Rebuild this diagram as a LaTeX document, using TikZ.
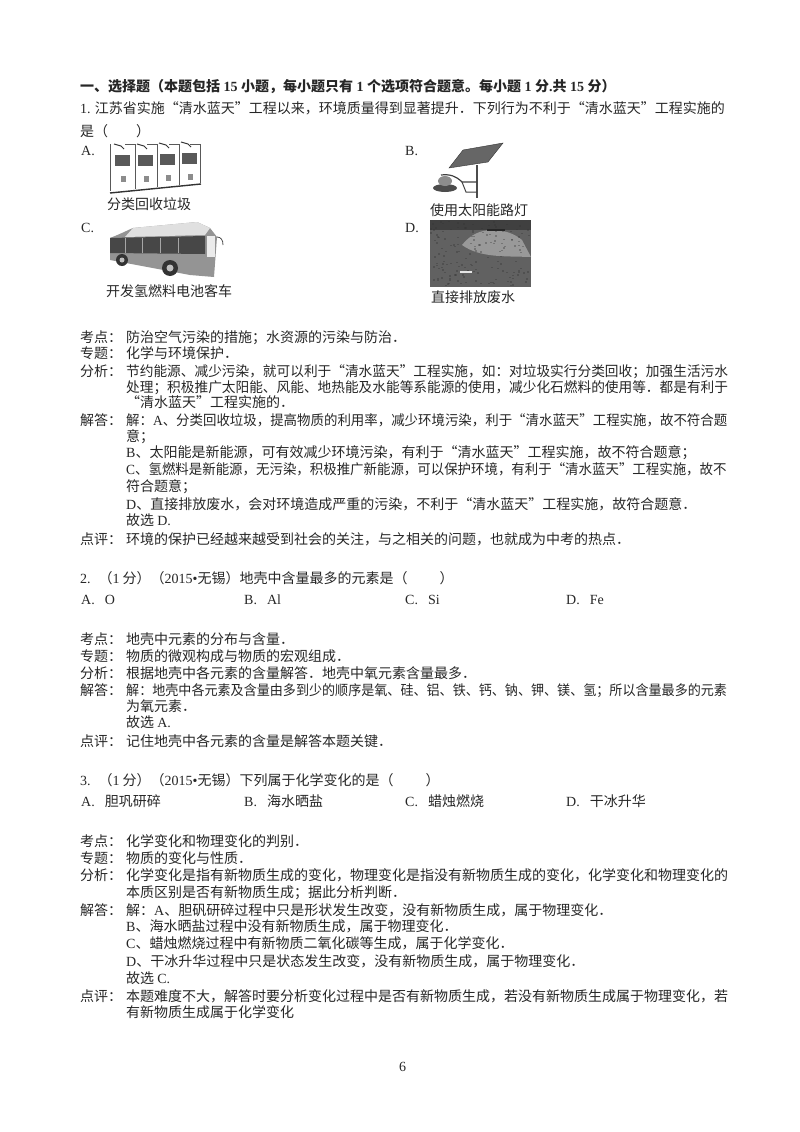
\documentclass[tikz,border=0pt]{standalone}
\usepackage{fontspec}
\setmainfont{Noto Sans CJK SC}[Language=Chinese Simplified,Script=CJK]
\newfontfamily\latfont{Liberation Serif}
\newcommand{\lat}[1]{{\latfont #1}}
\tikzset{
    txt/.style={anchor=base west, inner sep=0pt, text=black!85, font=\fontsize{14}{14}\selectfont},
    head/.style={txt, font=\fontsize{14}{14}\selectfont\bfseries},
    pic/.style={draw=black!65, line width=0.5pt}
}
\begin{document}
\begin{tikzpicture}[x=1pt, y=-1pt]
    \useasboundingbox (0,0) rectangle (800,1132);

    \node[head] (h0) at (80,92) {一、选择题（本题包括\lat{\ 15\ }小题，每小题只有\lat{\ 1\ }个选项符合题意。每小题\lat{\ 1\ }分\lat{.}共\lat{\ 15\ }分）};
    \node[txt] (q1) at (80,113) {\lat{1.} 江苏省实施“清水蓝天”工程以来，环境质量得到显著提升．下列行为不利于“清水蓝天”工程实施的};
    \node[txt] (q1b) at (80,136) {是（\quad\quad ）};
    \node[txt] (o1a) at (81,155) {\lat{A.}};
    \node[txt] (o1b) at (405,155) {\lat{B.}};
    \node[txt] (c1a) at (107,209) {分类回收垃圾};
    \node[txt] (c1b) at (430,215) {使用太阳能路灯};
    \node[txt] (o1c) at (81,232) {\lat{C.}};
    \node[txt] (o1d) at (405,232) {\lat{D.}};
    \node[txt] (c1c) at (106,296) {开发氢燃料电池客车};
    \node[txt] (c1d) at (431,302) {直接排放废水};

    % bins
    \draw[pic] (110,144) -- (110,191);
    \draw[pic] (135,144) -- (135,189);
    \draw[pic] (157,144) -- (157,187);
    \draw[pic] (179,144) -- (179,185);
    \draw[pic] (200,144) -- (200,183);
    \draw[pic] (125,144) -- (135,144) (147,144) -- (157,144) (169,144) -- (179,144) (190,144) -- (200,144);
    \draw[black!80, line width=1.4pt] (110,193) -- (201,184);
    \foreach \bx/\by in {115/155, 138/155, 160/154, 182/153} {
        \fill[black!65] (\bx,\by) rectangle (\bx+15,\by+11);
        \fill[black!45] (\bx+6,\by+21) rectangle (\bx+11,\by+27);
        \draw[black!80, line width=1pt] (\bx-1,\by-11) -- (\bx+6,\by-9) -- (\bx+9,\by-6);
    }

    % lamp
    \fill[black!60, draw=black!80] (449,168) -- (463,150) -- (503,143) -- (488,162) -- cycle;
    \draw[black!70, line width=1.6pt] (477,165) -- (477,198);
    \draw[black!75, line width=1.2pt] (477,182) -- (462,182) .. controls (456,176) and (450,174) .. (441,175);
    \draw[black!75, line width=1pt] (462,182) -- (466,192) -- (477,192);
    \fill[black!70] (445,188) ellipse (12pt and 4pt);
    \fill[black!45] (445,181) ellipse (7pt and 5pt);

    % bus
    \fill[black!42] (110,238) .. controls (125,232) and (130,229) .. (133,228) -- (197,222) -- (210,228) -- (217,237) -- (214,277) -- (190,275) -- (110,260) -- cycle;
    \fill[black!12] (133,228) -- (197,222) -- (210,228) -- (205,235) -- (125,237) -- cycle;
    \fill[black!72] (110,238) -- (205,236) -- (205,254) -- (110,253) -- cycle;
    \foreach \wx in {125,142,160,178} {
        \draw[black!35, line width=0.6pt] (\wx,238) -- (\wx,253);
    }
    \fill[black!8] (207,236) rectangle (215,257);
    \draw[black!70, line width=0.8pt] (217,237) .. controls (221,237) and (223,240) .. (223,245);
    \fill[black!80] (122,260) circle (6pt);
    \fill[black!25] (122,260) circle (2.5pt);
    \fill[black!80] (170,268) circle (8pt);
    \fill[black!25] (170,268) circle (3.5pt);

    % photo
    \fill[black!62] (430,220) rectangle (531,287);
    \fill[black!75] (430,220) rectangle (531,230);
    \fill[black!40] (462,245) .. controls (470,235) and (480,230) .. (492,230) .. controls (505,230) and (515,234) .. (522,240) -- (531,257) .. controls (505,256) and (480,258) .. (462,245) -- cycle;
    \pgfmathsetseed{7}
    \foreach \i in {1,...,160} {
        \pgfmathsetmacro{\sx}{430+rnd*99}
        \pgfmathsetmacro{\sy}{220+rnd*65}
        \fill[black!80, opacity=0.35] (\sx,\sy) rectangle (\sx+2,\sy+1.5);
    }
    \fill[black!85] (487,229) rectangle (505,230.5);
    \fill[black!10] (460,271) rectangle (472,272.5);

    \node[txt] (k1l) at (80,342) {考点：};
    \node[txt] (k1) at (126,342) {防治空气污染的措施；水资源的污染与防治．};
    \node[txt] (z1l) at (80,358) {专题：};
    \node[txt] (z1) at (126,358) {化学与环境保护．};
    \node[txt] (f1l) at (80,376) {分析：};
    \node[txt] (f1) at (126,376) {\scalebox{.977}[1]{节约能源、减少污染，就可以利于“清水蓝天”工程实施，如：对垃圾实行分类回收；加强生活污水}};
    \node[txt] (f1b) at (126,392) {\scalebox{.977}[1]{处理；积极推广太阳能、风能、地热能及水能等系能源的使用，减少化石燃料的使用等．都是有利于}};
    \node[txt] (f1c) at (126,407) {“清水蓝天”工程实施的．};
    \node[txt] (j1l) at (80,425) {解答：};
    \node[txt] (j1) at (126,425) {\scalebox{.96}[1]{解：\lat{A}、分类回收垃圾，提高物质的利用率，减少环境污染，利于“清水蓝天”工程实施，故不符合题}};
    \node[txt] (j1b) at (126,441) {意；};
    \node[txt] (j1c) at (126,457) {\lat{B}、太阳能是新能源，可有效减少环境污染，有利于“清水蓝天”工程实施，故不符合题意；};
    \node[txt] (j1d) at (126,474) {\scalebox{.96}[1]{\lat{C}、氢燃料是新能源，无污染，积极推广新能源，可以保护环境，有利于“清水蓝天”工程实施，故不}};
    \node[txt] (j1e) at (126,491) {符合题意；};
    \node[txt] (j1f) at (126,509) {\lat{D}、直接排放废水，会对环境造成严重的污染，不利于“清水蓝天”工程实施，故符合题意．};
    \node[txt] (j1g) at (126,525) {故选 \lat{D.}};
    \node[txt] (d1l) at (80,544) {点评：};
    \node[txt] (d1) at (126,544) {环境的保护已经越来越受到社会的关注，与之相关的问题，也就成为中考的热点．};

    \node[txt] (q2) at (80,583) {\lat{2.}\hspace{8pt}（\lat{1}\hspace{3pt}分）（\lat{2015•}无锡）地壳中含量最多的元素是（\hspace{32pt}）};
    \node[txt] (o2a) at (81,604) {\lat{A.}\hspace{10pt}\lat{O}};
    \node[txt] (o2b) at (244,604) {\lat{B.}\hspace{10pt}\lat{Al}};
    \node[txt] (o2c) at (405,604) {\lat{C.}\hspace{10pt}\lat{Si}};
    \node[txt] (o2d) at (566,604) {\lat{D.}\hspace{10pt}\lat{Fe}};

    \node[txt] (k2l) at (80,644) {考点：};
    \node[txt] (k2) at (126,644) {地壳中元素的分布与含量．};
    \node[txt] (z2l) at (80,661) {专题：};
    \node[txt] (z2) at (126,661) {物质的微观构成与物质的宏观组成．};
    \node[txt] (f2l) at (80,678) {分析：};
    \node[txt] (f2) at (126,678) {根据地壳中各元素的含量解答．地壳中氧元素含量最多．};
    \node[txt] (j2l) at (80,695) {解答：};
    \node[txt] (j2) at (126,695) {\scalebox{.933}[1]{解：地壳中各元素及含量由多到少的顺序是氧、硅、铝、铁、钙、钠、钾、镁、氢；所以含量最多的元素}};
    \node[txt] (j2b) at (126,711) {为氧元素．};
    \node[txt] (j2c) at (126,727) {故选 \lat{A.}};
    \node[txt] (d2l) at (80,746) {点评：};
    \node[txt] (d2) at (126,746) {记住地壳中各元素的含量是解答本题关键．};

    \node[txt] (q3) at (80,785) {\lat{3.}\hspace{8pt}（\lat{1}\hspace{3pt}分）（\lat{2015•}无锡）下列属于化学变化的是（\hspace{32pt}）};
    \node[txt] (o3a) at (81,806) {\lat{A.}\hspace{10pt}胆巩研碎};
    \node[txt] (o3b) at (244,806) {\lat{B.}\hspace{10pt}海水晒盐};
    \node[txt] (o3c) at (405,806) {\lat{C.}\hspace{10pt}蜡烛燃烧};
    \node[txt] (o3d) at (566,806) {\lat{D.}\hspace{10pt}干冰升华};

    \node[txt] (k3l) at (80,846) {考点：};
    \node[txt] (k3) at (126,846) {化学变化和物理变化的判别．};
    \node[txt] (z3l) at (80,863) {专题：};
    \node[txt] (z3) at (126,863) {物质的变化与性质．};
    \node[txt] (f3l) at (80,880) {分析：};
    \node[txt] (f3) at (126,880) {化学变化是指有新物质生成的变化，物理变化是指没有新物质生成的变化，化学变化和物理变化的};
    \node[txt] (f3b) at (126,897) {本质区别是否有新物质生成；据此分析判断．};
    \node[txt] (j3l) at (80,915) {解答：};
    \node[txt] (j3) at (126,915) {解：\lat{A}、胆矾研碎过程中只是形状发生改变，没有新物质生成，属于物理变化．};
    \node[txt] (j3b) at (126,931) {\lat{B}、海水晒盐过程中没有新物质生成，属于物理变化．};
    \node[txt] (j3c) at (126,948) {\lat{C}、蜡烛燃烧过程中有新物质二氧化碳等生成，属于化学变化．};
    \node[txt] (j3d) at (126,966) {\lat{D}、干冰升华过程中只是状态发生改变，没有新物质生成，属于物理变化．};
    \node[txt] (j3e) at (126,983) {故选 \lat{C.}};
    \node[txt] (d3l) at (80,1001) {点评：};
    \node[txt] (d3) at (126,1001) {本题难度不大，解答时要分析变化过程中是否有新物质生成，若没有新物质生成属于物理变化，若};
    \node[txt] (d3b) at (126,1017) {有新物质生成属于化学变化};

    \node[txt] (pg) at (399,1071) {\lat{6}};
\end{tikzpicture}
\end{document}
